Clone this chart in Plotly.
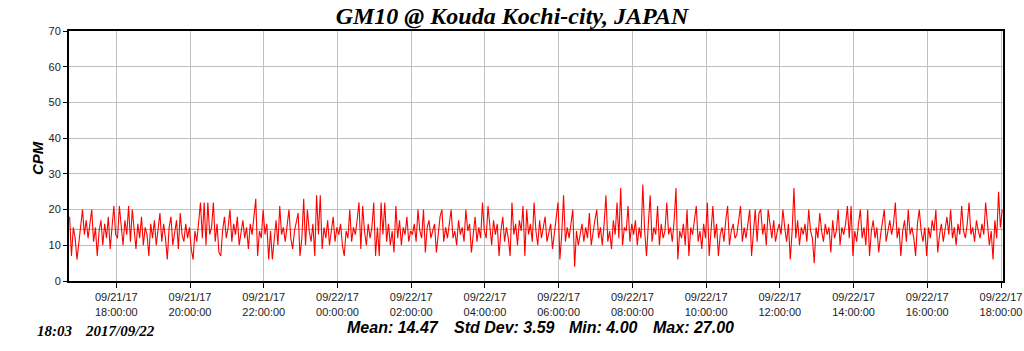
import datetime as dt
import plotly.graph_objects as go

# ---- data (~3-minute samples) ----
start_time = dt.datetime(2017, 9, 21, 16, 44)
step_minutes = 3

cpm_21st = [
    18, 7, 15, 12, 6, 11,
    14, 20, 13, 17, 12, 16, 20, 11, 15, 7, 14, 17, 10, 16, 12, 18, 9, 15, 21, 13,
    12, 21, 15, 10, 17, 13, 21, 11, 20, 14, 9, 16, 12, 18, 10, 15, 13, 7, 16, 12,
    17, 10, 14, 19, 11, 16, 12, 6, 15, 18, 10, 14, 17, 9, 19, 13, 11, 16, 12, 15,
    9, 6, 14, 11, 17, 22, 12, 22, 10, 22, 13, 15, 22, 11, 16, 8, 7, 14, 18, 12,
    15, 20, 11, 16, 13, 18, 10, 14, 17, 12, 15, 9, 16, 13, 18, 23, 7, 14, 12, 20,
    13, 16, 6, 14, 6, 12, 17, 10, 21, 13, 15, 11, 16, 20, 12, 9, 14, 17, 19, 7,
    12, 23, 10, 20, 14, 11, 16, 7, 24, 13, 24, 9, 15, 12, 17, 10, 14, 18, 11, 15,
]
cpm_22nd = [
    13, 16, 10, 7, 14, 12, 20, 11, 15, 13, 17, 22, 9, 21, 14, 10, 16, 12, 15, 22,
    7, 15, 7, 22, 13, 22, 11, 16, 10, 14, 8, 21, 12, 17, 10, 15, 13, 18, 11, 14,
    13, 16, 11, 20, 14, 12, 20, 8, 15, 17, 12, 14, 16, 8, 13, 18, 20, 11, 15, 12,
    16, 20, 12, 14, 10, 17, 13, 15, 11, 20, 14, 16, 8, 13, 18, 11, 15, 12, 22, 14,
    12, 21, 15, 10, 17, 13, 16, 7, 14, 18, 11, 15, 12, 7, 22, 13, 16, 10, 17, 14,
    21, 7, 20, 13, 16, 11, 22, 14, 10, 17, 12, 15, 18, 11, 14, 16, 9, 13, 17, 22,
    6, 13, 24, 11, 15, 12, 16, 20, 4, 14, 10, 13, 16, 11, 15, 12, 19, 10, 14, 17,
    20, 12, 15, 10, 16, 24, 11, 14, 9, 17, 13, 22, 12, 26, 10, 15, 14, 21, 11, 16,
    13, 17, 10, 15, 12, 27, 14, 7, 16, 24, 11, 15, 13, 21, 10, 16, 12, 14, 22, 13,
    15, 11, 17, 26, 6, 14, 12, 16, 10, 20, 7, 15, 13, 17, 21, 11, 14, 9, 16, 12,
    22, 7, 14, 21, 12, 16, 7, 13, 15, 11, 17, 21, 10, 14, 16, 12, 13, 18, 21, 11,
    15, 12, 16, 20, 7, 14, 20, 11, 19, 20, 13, 16, 10, 20, 15, 12, 17, 11, 14, 16,
    13, 20, 15, 11, 16, 6, 14, 26, 12, 17, 10, 15, 13, 16, 11, 20, 14, 12, 5, 15,
    12, 19, 14, 11, 16, 13, 15, 8, 17, 12, 14, 20, 10, 15, 13, 16, 21, 12, 21, 7,
    14, 11, 16, 20, 12, 15, 10, 20, 7, 14, 17, 12, 15, 8, 13, 16, 20, 11, 14, 17,
    13, 16, 22, 12, 15, 7, 14, 17, 11, 20, 13, 15, 12, 7, 16, 20, 14, 11, 15, 7,
    15, 12, 17, 14, 20, 8, 13, 16, 11, 15, 18, 13, 20, 12, 15, 10, 16, 13, 21, 14,
    12, 16, 22, 13, 15, 11, 17, 14, 12, 16, 13, 22, 15, 10, 14, 6, 17, 12, 25, 15,
    20,
]

mean_value = 14.47
stats_labels = ["Mean: 14.47", "Std Dev: 3.59", "Min: 4.00", "Max: 27.00"]
stamp_labels = ["18:03", "2017/09/22"]

tick_times = ["2017-09-21 18:00", "2017-09-21 20:00", "2017-09-21 22:00",
              "2017-09-22 00:00", "2017-09-22 02:00", "2017-09-22 04:00",
              "2017-09-22 06:00", "2017-09-22 08:00", "2017-09-22 10:00",
              "2017-09-22 12:00", "2017-09-22 14:00", "2017-09-22 16:00",
              "2017-09-22 18:00"]
tick_labels = ["09/21/17<br>18:00:00", "09/21/17<br>20:00:00", "09/21/17<br>22:00:00",
               "09/22/17<br>00:00:00", "09/22/17<br>02:00:00", "09/22/17<br>04:00:00",
               "09/22/17<br>06:00:00", "09/22/17<br>08:00:00", "09/22/17<br>10:00:00",
               "09/22/17<br>12:00:00", "09/22/17<br>14:00:00", "09/22/17<br>16:00:00",
               "09/22/17<br>18:00:00"]

cpm = cpm_21st + cpm_22nd
times = [start_time + dt.timedelta(minutes=step_minutes * i) for i in range(len(cpm))]

x_start = "2017-09-21 16:43:00"
x_end = "2017-09-22 18:03:15"

# ---- figure ----
W, H = 1024, 351
ML, MR, MT, MB = 69, 21, 31, 70
PW, PH = W - ML - MR, H - MT - MB

fig = go.Figure()
fig.add_trace(go.Scatter(x=[x_start, x_end], y=[mean_value, mean_value], mode="lines",
                         line=dict(color="rgba(170,140,0,0.8)", width=1),
                         hoverinfo="skip", showlegend=False))
fig.add_trace(go.Scatter(x=times, y=cpm, mode="lines",
                         line=dict(color="#ff0000", width=1.1),
                         showlegend=False))

sans = "Arial, Liberation Sans, sans-serif"
serif = "Times New Roman, Liberation Serif, serif"

def px_x(px):
    return (px - ML) / PW

def px_y(py):
    return (H - MB - py) / PH

annotations = [
    dict(text="<b><i>CPM</i></b>", x=px_x(37), y=px_y(158), xref="paper", yref="paper",
         textangle=-90, showarrow=False, font=dict(family=sans, size=15, color="#000"),
         xanchor="center", yanchor="middle"),
    dict(text="<b><i>%s</i></b>" % stamp_labels[0], x=px_x(35), y=px_y(331), xref="paper", yref="paper",
         showarrow=False, font=dict(family=serif, size=15, color="#000"), xanchor="left", yanchor="middle"),
    dict(text="<b><i>%s</i></b>" % stamp_labels[1], x=px_x(83), y=px_y(331), xref="paper", yref="paper",
         showarrow=False, font=dict(family=serif, size=15, color="#000"), xanchor="left", yanchor="middle"),
]
stat_x = [345, 452, 567, 651]
for lbl, sx in zip(stats_labels, stat_x):
    annotations.append(dict(text="<b><i>%s</i></b>" % lbl, x=px_x(sx), y=px_y(327), xref="paper", yref="paper",
                            showarrow=False, font=dict(family=sans, size=16, color="#000"),
                            xanchor="left", yanchor="middle"))

fig.update_layout(
    width=W, height=H,
    margin=dict(l=ML, r=MR, t=MT, b=MB, pad=0, autoexpand=False),
    paper_bgcolor="white", plot_bgcolor="white",
    title=dict(text="<b><i>GM10 @ Kouda Kochi-city, JAPAN</i></b>",
               x=0.5, xanchor="center", y=1 - 16 / H, yanchor="middle",
               font=dict(family=serif, size=24, color="#000")),
    xaxis=dict(range=[x_start, x_end], type="date", automargin=False,
               tickvals=tick_times, ticktext=tick_labels,
               showgrid=True, gridcolor="#c0c0c0", gridwidth=1,
               showline=True, linecolor="#000", linewidth=2, mirror=True,
               ticks="outside", ticklen=5, tickcolor="#000",
               tickfont=dict(family=sans, size=11, color="#222"),
               zeroline=False, fixedrange=True),
    yaxis=dict(range=[0, 70], tickvals=[0, 10, 20, 30, 40, 50, 60, 70], automargin=False,
               showgrid=True, gridcolor="#c0c0c0", gridwidth=1,
               showline=True, linecolor="#000", linewidth=2, mirror=True,
               ticks="outside", ticklen=4, tickcolor="#000",
               tickfont=dict(family=sans, size=11, color="#222"),
               zeroline=False, fixedrange=True),
    annotations=annotations,
    showlegend=False,
)

fig.write_html("out.html")
